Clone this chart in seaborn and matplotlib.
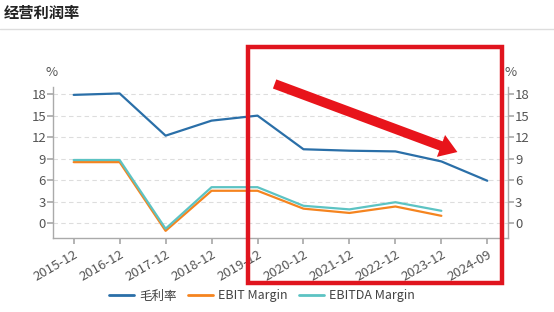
import matplotlib
matplotlib.use("Agg")
import matplotlib.pyplot as plt
import seaborn as sns
import pandas as pd
from matplotlib.patches import Rectangle, FancyArrowPatch
from matplotlib.lines import Line2D

periods = ["2015-12", "2016-12", "2017-12", "2018-12", "2019-12",
           "2020-12", "2021-12", "2022-12", "2023-12", "2024-09"]
gross_margin = [17.9, 18.1, 12.2, 14.3, 15.0, 10.3, 10.1, 10.0, 8.6, 5.9]
ebit_margin = [8.5, 8.5, -1.1, 4.5, 4.5, 2.0, 1.4, 2.3, 1.0, None]
ebitda_margin = [8.8, 8.8, -0.8, 5.0, 5.0, 2.4, 1.9, 2.9, 1.7, None]
series_names = ["毛利率", "EBIT Margin", "EBITDA Margin"]
colors = ["#2a6fa8", "#f5841f", "#5cc3c3"]
yticks = [0, 3, 6, 9, 12, 15, 18]

sns.set_theme(style="white")
plt.rcParams['font.family'] = ['Noto Sans CJK SC', 'DejaVu Sans']

rows = []
for name, vals in zip(series_names, [gross_margin, ebit_margin, ebitda_margin]):
    for p, v in zip(periods, vals):
        if v is not None:
            rows.append({"period": p, "value": v, "series": name})
df = pd.DataFrame(rows)

fig = plt.figure(figsize=(5.54, 3.12), dpi=100)
ax = fig.add_axes([53/554, 1-238/312, (508-53)/554, (238-87)/312])

sns.lineplot(data=df, x="period", y="value", hue="series", hue_order=series_names,
             palette=colors, ax=ax, linewidth=1.6, legend=False, sort=False)

ax.set_xlim(-0.45, 9.45)
ax.set_ylim(-2.1, 19.0)
ax.set_yticks(yticks)
ax.set_yticklabels([str(t) for t in yticks])
ax.set_xticks(range(len(periods)))
ax.set_xticklabels(periods, rotation=30, ha='right', rotation_mode='anchor')
ax.set_xlabel("")
ax.set_ylabel("")
ax.grid(axis='y', color='#dddddd', linestyle=(0, (4, 3)), linewidth=0.8)
ax.grid(axis='x', visible=False)
ax.spines["top"].set_visible(False)
for s in ["left", "right", "bottom"]:
    ax.spines[s].set_visible(True)
    ax.spines[s].set_color('#aaaaaa')
    ax.spines[s].set_linewidth(1.0)
ax.tick_params(axis='y', left=True, right=True, labelleft=True, labelright=True,
               length=4, color='#aaaaaa', labelcolor='#555555', labelsize=9.5, pad=1)
ax.tick_params(axis='x', bottom=True, length=4, color='#aaaaaa', labelcolor='#555555',
               labelsize=9.5, pad=3)

fig.text(52/554, 1-72/312, "%", fontsize=9.5, color='#555555', ha='center', va='center')
fig.text(511/554, 1-72/312, "%", fontsize=9.5, color='#555555', ha='center', va='center')

fig.text(4/554, 1-13/312, "经营利润率", fontsize=11, fontweight='bold', color='#222222',
         ha='left', va='center')
fig.add_artist(Line2D([0, 1], [1-28.5/312, 1-28.5/312], color='#dddddd', linewidth=1,
                      transform=fig.transFigure))

handles = [Line2D([0], [0], color=c, linewidth=2) for c in colors]
fig.legend(handles, series_names, loc='center', bbox_to_anchor=(262/554, 1-296/312),
           ncol=3, frameon=False, fontsize=9, handlelength=2.0, columnspacing=0.9,
           handletextpad=0.4, labelcolor='#444444')

fig.add_artist(Rectangle((248/554, 1-283/312), (502-248)/554, (283-47)/312,
                         transform=fig.transFigure, fill=False, edgecolor='#e0141e',
                         linewidth=3.2))
arrow = FancyArrowPatch((272/554, 1-83/312), (460/554, 1-153/312),
                        transform=fig.transFigure,
                        arrowstyle='simple,head_width=2.4,head_length=1.8,tail_width=1.0',
                        mutation_scale=7, color='#e8141b', linewidth=0)
fig.add_artist(arrow)

fig.savefig("out.png", dpi=100)
